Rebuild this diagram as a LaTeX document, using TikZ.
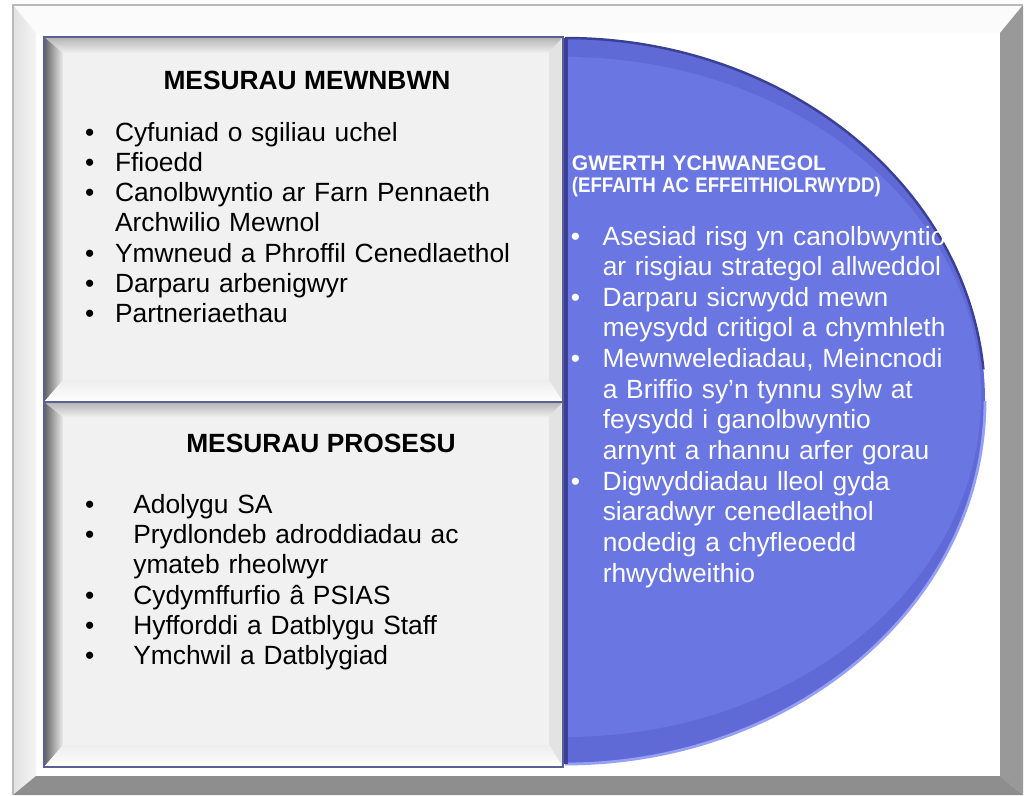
\documentclass[tikz,border=0pt]{standalone}
\usepackage{fontspec}
\usepackage{graphicx}
\setmainfont{Liberation Sans}
\usetikzlibrary{positioning,calc}
\definecolor{framelite}{RGB}{226,226,226}
\definecolor{framedark}{RGB}{153,153,153}
\definecolor{framebot}{RGB}{142,142,142}
\definecolor{boxface}{RGB}{241,241,241}
\definecolor{boxedge}{RGB}{90,96,150}
\definecolor{discblue}{RGB}{106,118,226}
\definecolor{discrim}{RGB}{96,106,214}
\definecolor{discdark}{RGB}{58,64,150}
\definecolor{disclite}{RGB}{150,160,246}

\newlength\bltind
\newcommand{\blt}[1]{\noindent\hangindent=\bltind\hangafter=1\makebox[\bltind][l]{\textbullet}#1\par}

% bevelled panel: outer corner (#1,#2)-(#3,#4), face (#5,#6)-(#7,#8)
\newcommand{\bevelpanel}[8]{%
  \fill[boxface] (#1,#2) rectangle (#3,#4);
  \shade[top color=gray!60, bottom color=gray!12] (#1,#2) -- (#3,#2) -- (#7,#6) -- (#5,#6) -- cycle;
  \shade[left color=gray!75!black, right color=gray!15] (#1,#2) -- (#5,#6) -- (#5,#8) -- (#1,#4) -- cycle;
  \fill[gray!22] (#3,#2) -- (#3,#4) -- (#7,#8) -- (#7,#6) -- cycle;
  \shade[top color=gray!14, bottom color=white] (#1,#4) -- (#5,#8) -- (#7,#8) -- (#3,#4) -- cycle;
  \fill[boxface] (#5,#6) rectangle (#7,#8);
  \draw[boxedge, line width=1.2pt] (#1,#2) rectangle (#3,#4);
}

\begin{document}
\begin{tikzpicture}[
    x=0.02cm, y=-0.02cm,
    heading/.style={font=\fontsize{15}{18}\selectfont\bfseries, inner sep=0pt, anchor=base},
    bullets/.style={font=\fontsize{15}{17.25}\selectfont, inner sep=0pt, anchor=base west,
      align=left, execute at begin node={\setlength\bltind{#1}}},
    whitelist/.style={bullets=#1, text=white, font=\fontsize{15}{17.45}\selectfont}
  ]
  \useasboundingbox (0,0) rectangle (1027,795);
  \fill[white] (0,0) rectangle (1027,795);

  % outer frame
  \fill[white!97!gray] (13,5) -- (1023,5) -- (1000,33) -- (36,33) -- cycle;
  \shade[left color=gray!24, right color=gray!8] (13,5) -- (36,33) -- (36,776) -- (13,795) -- cycle;
  \fill[framedark] (1023,5) -- (1023,795) -- (1000,776) -- (1000,33) -- cycle;
  \fill[framebot] (13,795) -- (36,776) -- (1000,776) -- (1023,795) -- cycle;
  \draw[gray!55, line width=0.6pt] (13,795) |- (1023,5);

  % blue half disc
  \begin{scope}
    \clip (565,0) rectangle (1000,795);
    \fill[discrim] (565,401) ellipse [x radius=420, y radius=363];
    \fill[discblue] (565,397) ellipse [x radius=416, y radius=340];
    \draw[disclite, line width=1.6pt] (985,401) arc[start angle=0, end angle=90, x radius=420, y radius=363];
    \draw[discdark, line width=1.4pt] (565,38) arc[start angle=-90, end angle=-5, x radius=420, y radius=363];
  \end{scope}
  \draw[discdark, line width=2.5pt] (566,38) -- (566,764);

  % left panels
  \bevelpanel{44}{37}{563}{402}{63}{53}{549}{380}
  \bevelpanel{44}{402}{563}{767}{63}{417}{549}{745}

  \node[heading] (inhead) at (307,89) {MESURAU MEWNBWN};
  \node[bullets=0.6cm, text width=9cm] (inlist) at (84.7,141) {%
    \blt{Cyfuniad o sgiliau uchel}
    \blt{Ffioedd}
    \blt{Canolbwyntio ar Farn Pennaeth\newline Archwilio Mewnol}
    \blt{Ymwneud a Phroffil Cenedlaethol}
    \blt{Darparu arbenigwyr}
    \blt{Partneriaethau}};

  \node[heading] (prochead) at (321,452) {MESURAU PROSESU};
  \node[bullets=0.966cm, text width=9cm] (proclist) at (84.7,513.3) {%
    \blt{Adolygu SA}
    \blt{Prydlondeb adroddiadau ac\newline ymateb rheolwyr}
    \blt{Cydymffurfio â PSIAS}
    \blt{Hyfforddi a Datblygu Staff}
    \blt{Ymchwil a Datblygiad}};

  \node[anchor=base west, inner sep=0pt, text width=8cm, align=left, text=white,
    font=\fontsize{12}{12.9}\selectfont\bfseries] (vahead) at (571.5,170)
    {GWERTH YCHWANEGOL\newline\scalebox{0.886}[1]{(EFFAITH AC EFFEITHIOLRWYDD)}};
  \node[whitelist=0.64cm, text width=8.3cm] (valist) at (570.4,245) {%
    \blt{Asesiad risg yn canolbwyntio\newline ar risgiau strategol allweddol}
    \blt{Darparu sicrwydd mewn\newline meysydd critigol a chymhleth}
    \blt{Mewnwelediadau, Meincnodi\newline a Briffio sy'n tynnu sylw at\newline feysydd i ganolbwyntio\newline arnynt a rhannu arfer gorau}
    \blt{Digwyddiadau lleol gyda\newline siaradwyr cenedlaethol\newline nodedig a chyfleoedd\newline rhwydweithio}};
\end{tikzpicture}
\end{document}
